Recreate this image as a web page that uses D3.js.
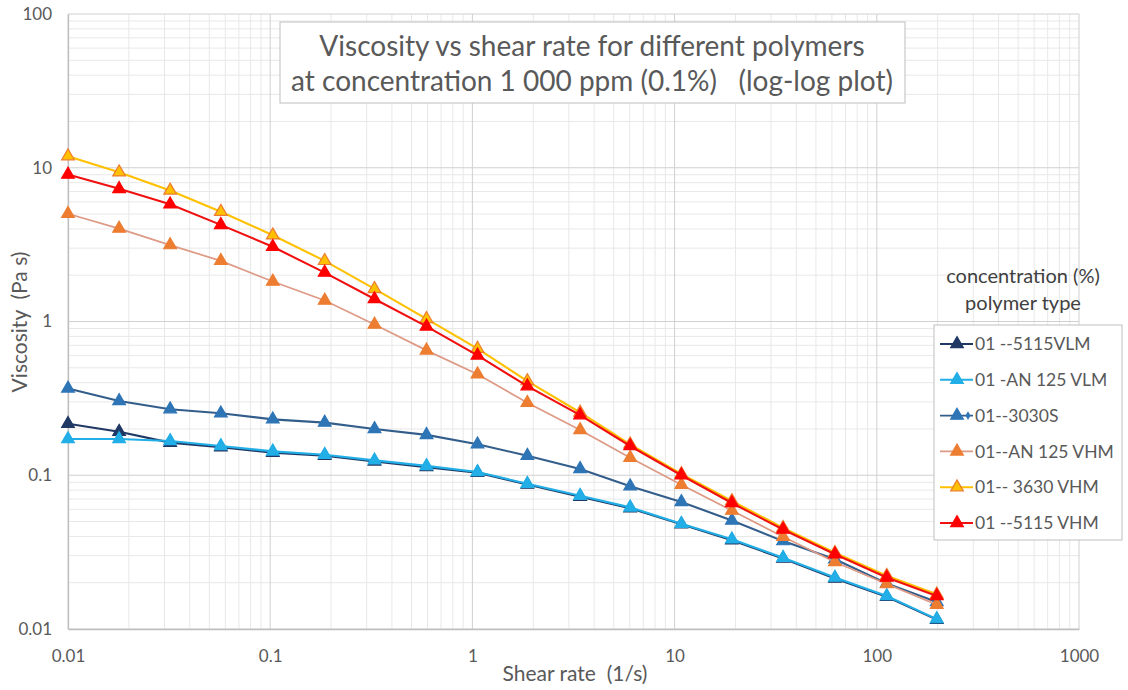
<!DOCTYPE html>
<html>
<head>
<meta charset="utf-8">
<script src="https://cdn.jsdelivr.net/npm/d3@7"></script>
<style>
  body { margin: 0; background: #fff; }
  svg { font-family: Lato, "Open Sans", sans-serif; }
  text { white-space: pre; }
</style>
</head>
<body>
<svg id="chart" width="1128" height="690"></svg>
<script>
// shear rate (1/s)
var shearRate = [0.01, 0.0179, 0.032, 0.057, 0.103, 0.186, 0.328, 0.593, 1.06, 1.87, 3.41, 6.03, 10.8, 19.2, 34.4, 62.1, 112, 198];

// viscosity (Pa s) for each polymer
var v5115VLM  = [0.216, 0.192, 0.163, 0.152, 0.140, 0.134, 0.123, 0.113, 0.104, 0.087, 0.0725, 0.061, 0.048, 0.0378, 0.0287, 0.0213, 0.0162, 0.0115];
var vAN125VLM = [0.172, 0.172, 0.167, 0.155, 0.143, 0.136, 0.125, 0.115, 0.105, 0.088, 0.0736, 0.0618, 0.0483, 0.0383, 0.0291, 0.0216, 0.0164, 0.0116];
var v3030S    = [0.367, 0.304, 0.269, 0.253, 0.231, 0.220, 0.200, 0.183, 0.159, 0.134, 0.110, 0.0847, 0.067, 0.0508, 0.0373, 0.0284, 0.0198, 0.0150];
var vAN125VHM = [5.02, 4.02, 3.14, 2.48, 1.82, 1.37, 0.956, 0.649, 0.454, 0.296, 0.197, 0.130, 0.0868, 0.0589, 0.0398, 0.0273, 0.0196, 0.0144];
var v3630VHM  = [11.9, 9.35, 7.12, 5.18, 3.64, 2.48, 1.63, 1.04, 0.666, 0.41, 0.256, 0.159, 0.102, 0.068, 0.0455, 0.0313, 0.0222, 0.0168];
var v5115VHM  = [9.04, 7.29, 5.78, 4.25, 3.06, 2.08, 1.40, 0.929, 0.602, 0.380, 0.246, 0.155, 0.100, 0.066, 0.0444, 0.0306, 0.0216, 0.0164];

var seriesNames = ["01 --5115VLM", "01 -AN 125 VLM", "01--3030S", "01--AN 125 VHM", "01-- 3630 VHM", "01 --5115 VHM"];
var seriesValues = [v5115VLM, vAN125VLM, v3030S, vAN125VHM, v3630VHM, v5115VHM];
var lineColors   = ["#1f3864", "#22aee6", "#335e8c", "#dd9a85", "#ffc000", "#f01010"];
var markerFill   = ["#1f3864", "#22aee6", "#2e75b6", "#ed7d31", "#ffc000", "#ff0000"];
var markerStroke = ["#1f3864", "#22aee6", "#2e75b6", "#ed7d31", "#ed7d31", "#ff0000"];

var xTicks = [0.01, 0.1, 1, 10, 100, 1000];
var yTicks = [0.01, 0.1, 1, 10, 100];

var svg = d3.select("#chart");
var pLeft = 68, pRight = 1079, pTop = 14, pBottom = 629;

var x = d3.scaleLog().domain([0.01, 1000]).range([pLeft, pRight]);
var y = d3.scaleLog().domain([0.01, 100]).range([pBottom, pTop]);

// grid
var grid = svg.append("g");
var isMajor = function(d) { return Math.abs(Math.log10(d) - Math.round(Math.log10(d))) < 1e-6; };
var minorX = x.ticks().filter(function(d) { return !isMajor(d); });
var minorY = y.ticks().filter(function(d) { return !isMajor(d); });

grid.selectAll("line.mx").data(minorX).enter().append("line")
    .attr("x1", function(d) { return x(d); }).attr("x2", function(d) { return x(d); })
    .attr("y1", pTop).attr("y2", pBottom)
    .attr("stroke", "#e8e8e8").attr("stroke-width", 1);
grid.selectAll("line.my").data(minorY).enter().append("line")
    .attr("y1", function(d) { return y(d); }).attr("y2", function(d) { return y(d); })
    .attr("x1", pLeft).attr("x2", pRight)
    .attr("stroke", "#e8e8e8").attr("stroke-width", 1);
grid.selectAll("line.Mx").data(xTicks).enter().append("line")
    .attr("x1", function(d) { return x(d); }).attr("x2", function(d) { return x(d); })
    .attr("y1", pTop).attr("y2", pBottom)
    .attr("stroke", "#d0d0d0").attr("stroke-width", 1);
grid.selectAll("line.My").data(yTicks).enter().append("line")
    .attr("y1", function(d) { return y(d); }).attr("y2", function(d) { return y(d); })
    .attr("x1", pLeft).attr("x2", pRight)
    .attr("stroke", "#d0d0d0").attr("stroke-width", 1);

// axes
var fmt = function(d) { return String(d); };
var xAxis = svg.append("g")
    .attr("transform", "translate(0," + pBottom + ")")
    .call(d3.axisBottom(x).tickValues(xTicks).tickSize(0).tickPadding(21).tickFormat(fmt));
var yAxis = svg.append("g")
    .attr("transform", "translate(" + pLeft + ",0)")
    .call(d3.axisLeft(y).tickValues(yTicks).tickSize(0).tickPadding(16).tickFormat(fmt));
[xAxis, yAxis].forEach(function(a) {
  a.select(".domain").attr("stroke", "#bfbfbf").attr("stroke-width", 1.3);
  a.selectAll("text").attr("font-size", 17).attr("fill", "#595959").attr("font-family", "Lato, sans-serif");
});

svg.append("text")
    .attr("x", 575).attr("y", 681)
    .attr("text-anchor", "middle")
    .attr("font-size", 21).attr("fill", "#595959")
    .text("Shear rate  (1/s)");
svg.append("text")
    .attr("transform", "translate(27,322) rotate(-90)")
    .attr("text-anchor", "middle")
    .attr("font-size", 21).attr("fill", "#595959")
    .text("Viscosity  (Pa s)");

// series
var line = d3.line()
    .x(function(d, i) { return x(shearRate[i]); })
    .y(function(d) { return y(d); });
var tri = d3.symbol().type(d3.symbolTriangle).size(70);

seriesValues.forEach(function(vals, s) {
  var g = svg.append("g");
  g.append("path")
      .attr("d", line(vals))
      .attr("fill", "none")
      .attr("stroke", lineColors[s])
      .attr("stroke-width", s === 3 ? 1.7 : 2.1);
  g.selectAll("path.m").data(vals).enter().append("path")
      .attr("class", "m")
      .attr("d", tri)
      .attr("transform", function(d, i) { return "translate(" + x(shearRate[i]) + "," + y(d) + ")"; })
      .attr("fill", markerFill[s])
      .attr("stroke", markerStroke[s])
      .attr("stroke-width", 1.2);
});

// title box
svg.append("rect")
    .attr("x", 280).attr("y", 22).attr("width", 625).attr("height", 81)
    .attr("fill", "#fff").attr("stroke", "#c9c9c9").attr("stroke-width", 1.2);
svg.append("text")
    .attr("x", 592).attr("y", 56)
    .attr("text-anchor", "middle").attr("font-size", 28).attr("fill", "#595959")
    .text("Viscosity vs shear rate for different polymers");
svg.append("text")
    .attr("x", 592).attr("y", 91)
    .attr("text-anchor", "middle").attr("font-size", 28).attr("fill", "#595959")
    .text("at concentration 1 000 ppm (0.1%)   (log-log plot)");

// legend
svg.append("text")
    .attr("x", 1023).attr("y", 283)
    .attr("text-anchor", "middle").attr("font-size", 20).attr("fill", "#404040")
    .text("concentration (%)");
svg.append("text")
    .attr("x", 1023).attr("y", 310)
    .attr("text-anchor", "middle").attr("font-size", 20).attr("fill", "#404040")
    .text("polymer type");

var legend = svg.append("g");
legend.append("rect")
    .attr("x", 934).attr("y", 325).attr("width", 188).attr("height", 215)
    .attr("fill", "#fff").attr("stroke", "#bfbfbf").attr("stroke-width", 1);
var ly = d3.scalePoint().domain(seriesNames).range([344, 523]);
var items = legend.selectAll("g.item").data(seriesNames).enter().append("g")
    .attr("transform", function(d) { return "translate(0," + ly(d) + ")"; });
items.append("line")
    .attr("x1", 940).attr("x2", 973)
    .attr("stroke", function(d, i) { return lineColors[i]; })
    .attr("stroke-width", 1.9);
items.append("path")
    .attr("d", tri)
    .attr("transform", "translate(957,0)")
    .attr("fill", function(d, i) { return markerFill[i]; })
    .attr("stroke", function(d, i) { return markerStroke[i]; })
    .attr("stroke-width", 1.2);
items.filter(function(d, i) { return i === 2; }).append("path")
    .attr("d", d3.symbol().type(d3.symbolDiamond).size(22))
    .attr("transform", "translate(968,0)")
    .attr("fill", "#2e75b6");
items.append("text")
    .attr("x", 975).attr("dy", "0.35em")
    .attr("font-size", 17.5).attr("fill", "#595959")
    .text(function(d) { return d; });
</script>
</body>
</html>
